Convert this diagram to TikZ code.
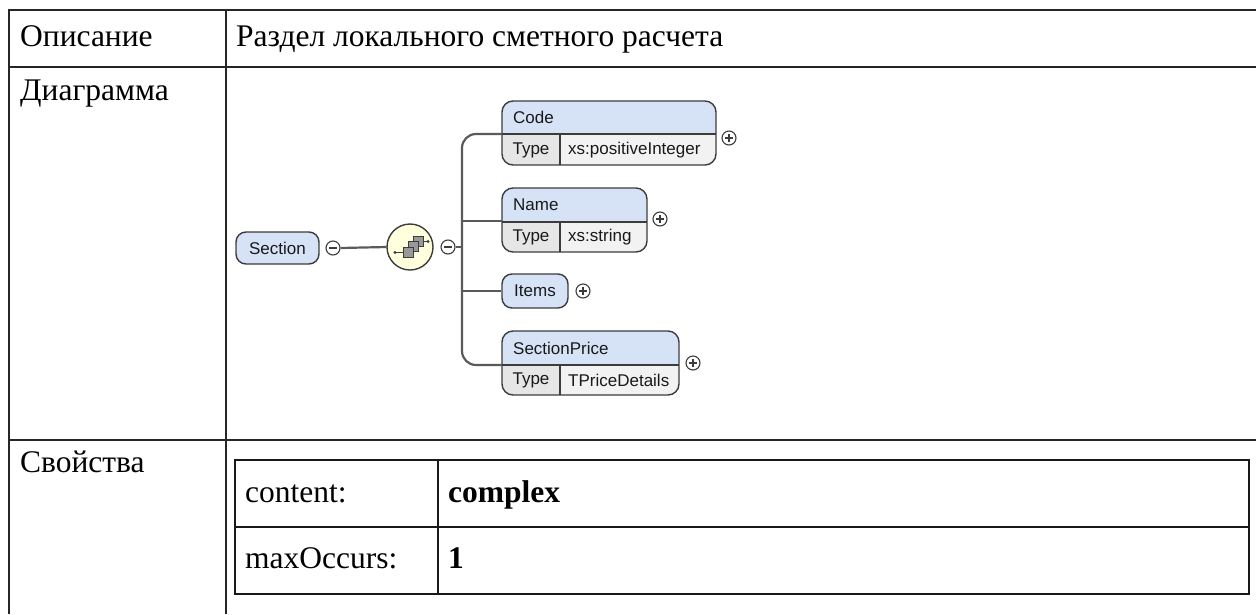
\documentclass[tikz,border=0pt]{standalone}
\usepackage{fontspec}
\setmainfont{Liberation Serif}
\newfontfamily\dsans{Liberation Sans}
\definecolor{hdr}{RGB}{214,227,247}
\definecolor{tcell}{RGB}{230,230,230}
\definecolor{vcell}{RGB}{242,242,242}
\definecolor{seqfill}{RGB}{255,255,222}
\definecolor{edge}{RGB}{60,60,60}
\definecolor{conn}{RGB}{90,90,90}
\tikzset{
  tline/.style={line width=2.5pt, draw=black!85},
  iline/.style={line width=2pt, draw=black!90},
  big/.style={font=\fontsize{31.5}{36}\selectfont, inner sep=0pt, anchor=base west},
  bigb/.style={big, font=\fontsize{31.5}{36}\selectfont\bfseries},
  sm/.style={font=\dsans\fontsize{17}{19}\selectfont, inner sep=0pt, text=black!90},
  boxline/.style={draw=edge, line width=1.4pt},
  connline/.style={draw=conn, line width=2.2pt},
  pm/.style={circle, draw=edge, line width=1.1pt, minimum size=14pt, inner sep=0pt, fill=white},
}
\begin{document}
\begin{tikzpicture}[x=1pt,y=-1pt]
\useasboundingbox (0,0) rectangle (1256,614);
% outer table
\draw[tline] (9,614) -- (9,10) -- (1256,10);
\draw[tline] (9,67) -- (1256,67);
\draw[tline] (9,440) -- (1256,440);
\draw[tline] (226,10) -- (226,614);
\node[big] (l1) at (20,46) {Описание};
\node[big] (r1) at (236,46) {Раздел локального сметного расчета};
\node[big] (l2) at (20,100) {Диаграмма};
\node[big] (l3) at (20,472) {Свойства};
% inner table
\draw[iline] (235,460) rectangle (1249,594);
\draw[iline] (235,527) -- (1249,527);
\draw[iline] (438,460) -- (438,594);
\node[big] (c1) at (245,502) {content:};
\node[bigb] (c2) at (448,502) {complex};
\node[big] (c3) at (245,568) {maxOccurs:};
\node[bigb] (c4) at (448,568) {1};

% ---------- diagram ----------
% Section
\node[boxline, fill=hdr, rounded corners=10pt, minimum width=83pt, minimum height=32pt, sm] (sec) at (277.5,248) {Section};
\node[pm] (m1) at (333,248) {};
\draw[edge, line width=1.1pt] (329,248) -- (337,248);
\node[circle, draw=edge, line width=1.4pt, fill=seqfill, minimum size=46pt, inner sep=0pt] (seq) at (410,247) {};
\draw[connline] (m1.east) -- (seq.west);
% sequence icon
\draw[edge, line width=1pt] (395,252.5) -- (403,252.5);
\fill[edge] (395,252.5) circle (1.7pt);
\draw[edge, line width=1pt] (422,241.5) -- (428,241.5);
\fill[edge] (428,241.5) circle (1.7pt);
\draw[draw=edge, fill=black!40, line width=0.8pt] (413,236.5) rectangle (423,246.5);
\draw[draw=edge, fill=black!40, line width=0.8pt] (408,241.5) rectangle (418,251.5);
\draw[draw=edge, fill=black!40, line width=0.8pt] (403,247) rectangle (413,257);
\node[pm] (m2) at (448,247) {};
\draw[edge, line width=1.1pt] (444,247) -- (452,247);

% Code
\begin{scope}
\clip[rounded corners=11pt] (502,101) rectangle (716,165);
\fill[hdr] (502,101) rectangle (716,134);
\fill[tcell] (502,134) rectangle (560,165);
\fill[vcell] (560,134) rectangle (716,165);
\end{scope}
\draw[boxline, rounded corners=11pt] (502,101) rectangle (716,165);
\draw[boxline] (502,134) -- (716,134) (560,134) -- (560,165);
\coordinate (codeL) at (502,134);
\node[sm, anchor=west] (codeN) at (513,117.5) {Code};
\node[sm] (codeT) at (531,150) {Type};
\node[sm, anchor=west] (codeV) at (568,150) {xs:positiveInteger};
\node[pm] (p1) at (729,138) {};

% Name
\begin{scope}
\clip[rounded corners=11pt] (502,188) rectangle (647,252);
\fill[hdr] (502,188) rectangle (647,222);
\fill[tcell] (502,222) rectangle (560,252);
\fill[vcell] (560,222) rectangle (647,252);
\end{scope}
\draw[boxline, rounded corners=11pt] (502,188) rectangle (647,252);
\draw[boxline] (502,222) -- (647,222) (560,222) -- (560,252);
\coordinate (nameL) at (502,221);
\node[sm, anchor=west] (nameN) at (513,205) {Name};
\node[sm] (nameT) at (531,237) {Type};
\node[sm, anchor=west] (nameV) at (568,237) {xs:string};
\node[pm] (p2) at (660,219) {};

% Items
\node[boxline, fill=hdr, rounded corners=10pt, minimum width=66pt, minimum height=34pt, sm] (items) at (535,291) {Items};
\node[pm] (p3) at (583,291) {};

% SectionPrice
\begin{scope}
\clip[rounded corners=11pt] (502,331) rectangle (679,395);
\fill[hdr] (502,331) rectangle (679,365);
\fill[tcell] (502,365) rectangle (560,395);
\fill[vcell] (560,365) rectangle (679,395);
\end{scope}
\draw[boxline, rounded corners=11pt] (502,331) rectangle (679,395);
\draw[boxline] (502,365) -- (679,365) (560,365) -- (560,395);
\coordinate (spL) at (502,365);
\node[sm, anchor=west] (spN) at (513,348) {SectionPrice};
\node[sm] (spT) at (531,380) {Type};
\node[sm, anchor=west] (spV) at (568,380) {TPriceDetails};
\node[pm] (p4) at (693,363) {};

% plus signs
\foreach \p in {p1,p2,p3,p4}{
  \draw[edge, line width=1.1pt] ([xshift=-4pt]\p.center) -- ([xshift=4pt]\p.center);
  \draw[edge, line width=1.1pt] ([yshift=-4pt]\p.center) -- ([yshift=4pt]\p.center);
}

% bracket connectors
\coordinate (bj) at (462,247);
\draw[connline] (m2.east) -- (bj);
\draw[connline, rounded corners=14pt] (codeL) -- (462,134) -- (462,365) -- (spL);
\draw[connline] (462,221) -- (nameL);
\draw[connline] (462,291) -- (items.west);
\end{tikzpicture}
\end{document}
